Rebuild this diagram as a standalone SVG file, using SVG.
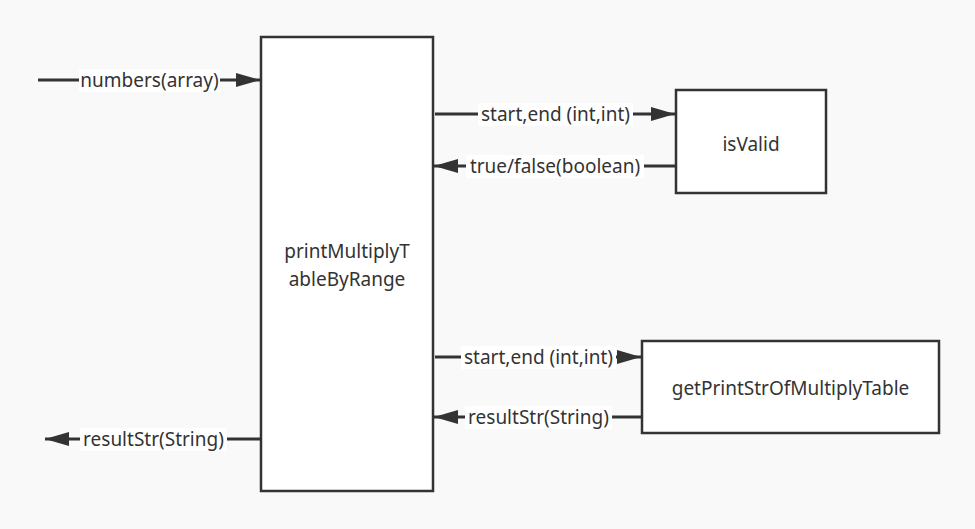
<svg xmlns="http://www.w3.org/2000/svg" width="975" height="529" viewBox="0 0 975 529">
<style>
.box{fill:#fff;stroke:#333;stroke-width:2.5}
.t{font-family:"Noto Sans","Open Sans",sans-serif;font-size:19px;fill:#333;text-anchor:middle;dominant-baseline:central}
.ln{stroke:#333;stroke-width:3;fill:none}
.lb{fill:#fff}
</style>
<defs>
<marker id="ah" viewBox="0 0 24 14" refX="24" refY="7" markerWidth="24" markerHeight="14" markerUnits="userSpaceOnUse" orient="auto">
<path d="M0,0 L24,7 L0,14 z" fill="#333"/>
</marker>
</defs>
<rect width="975" height="529" fill="#f9f9f9"/>
<g id="connectors">
<line class="ln" x1="38" y1="80" x2="260" y2="80" marker-end="url(#ah)"/>
<rect class="lb" x="79" y="69" width="141" height="23"/>
<text class="t" x="149.5" y="80">numbers(array)</text>
<line class="ln" x1="435" y1="114" x2="675" y2="114" marker-end="url(#ah)"/>
<rect class="lb" x="478" y="103" width="155" height="23"/>
<text class="t" x="555.5" y="114">start,end (int,int)</text>
<line class="ln" x1="676" y1="166" x2="434" y2="166" marker-end="url(#ah)"/>
<rect class="lb" x="466" y="155" width="178" height="23"/>
<text class="t" x="555" y="166">true/false(boolean)</text>
<line class="ln" x1="435" y1="357" x2="641" y2="357" marker-end="url(#ah)"/>
<rect class="lb" x="461" y="346" width="155" height="23"/>
<text class="t" x="538.5" y="357">start,end (int,int)</text>
<line class="ln" x1="642" y1="417" x2="434" y2="417" marker-end="url(#ah)"/>
<rect class="lb" x="465" y="406" width="147" height="23"/>
<text class="t" x="538.5" y="417">resultStr(String)</text>
<line class="ln" x1="261" y1="439" x2="45" y2="439" marker-end="url(#ah)"/>
<rect class="lb" x="80" y="428" width="147" height="23"/>
<text class="t" x="153.5" y="439">resultStr(String)</text>
</g>
<g id="main">
<rect class="box" x="261" y="37" width="172" height="454"/>
<text class="t" x="347" y="251">printMultiplyT</text>
<text class="t" x="347" y="279">ableByRange</text>
</g>
<g id="isValid">
<rect class="box" x="676" y="90" width="150" height="103"/>
<text class="t" x="751" y="144">isValid</text>
</g>
<g id="getPrint">
<rect class="box" x="642" y="341" width="297" height="92"/>
<text class="t" x="790.5" y="388">getPrintStrOfMultiplyTable</text>
</g>
</svg>
